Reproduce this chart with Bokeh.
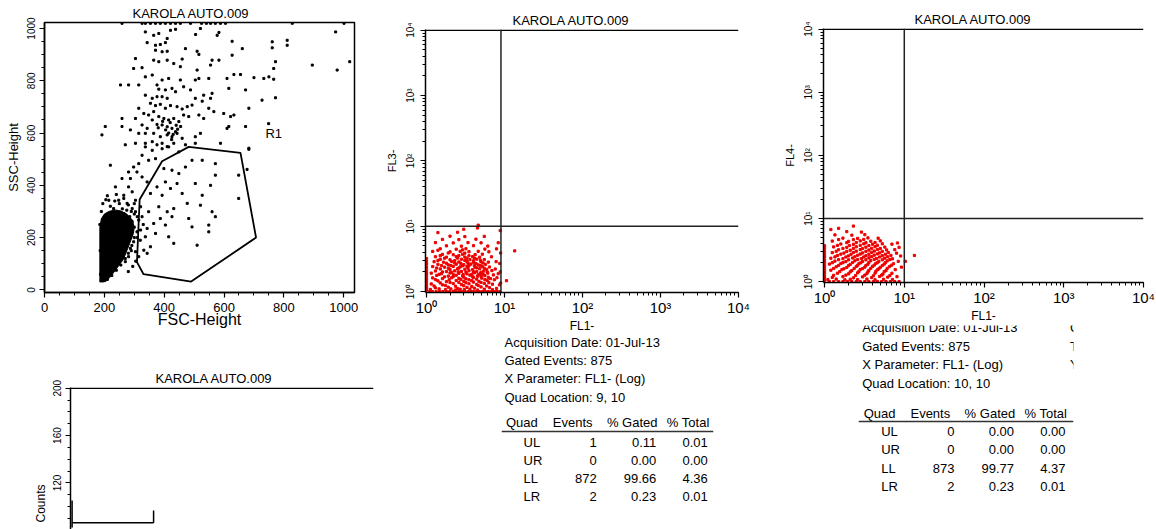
import math
from bokeh.plotting import figure
from bokeh.layouts import row, column
from bokeh.models import Range1d, SingleIntervalTicker, Span
from bokeh.core.properties import value
from bokeh.embed import file_html
from bokeh.resources import INLINE

TITLE = "KAROLA AUTO.009"
FONT = "Liberation Sans"

# ---------------- Panel 1: FSC-Height vs SSC-Height ----------------
# dense core of events (outline of the saturated black blob)
core_fsc = [185, 185, 190, 200, 215, 235, 255, 275, 293, 300, 297, 282, 264, 240, 220, 205]
core_ssc = [30, 240, 272, 290, 300, 306, 302, 290, 268, 240, 215, 170, 118, 80, 50, 32]

# scattered events, (FSC, SSC)
events_top = [(259, 1020), (326, 1020), (337, 1020), (354, 1020), (371, 1020), (387, 1020),
              (404, 1020), (421, 1020), (438, 1020), (454, 1020), (488, 1020), (525, 1020),
              (541, 1020), (555, 1020), (571, 1020), (588, 1020), (605, 1020), (828, 1020),
              (1001, 1020)]
events_upper = [(337, 987), (365, 974), (382, 981), (421, 993), (438, 997), (505, 977), (521, 1000),
                (583, 985), (973, 987), (811, 955), (761, 949), (627, 951), (343, 946), (371, 936),
                (387, 939), (410, 962), (404, 946), (577, 974), (371, 917), (393, 911), (410, 913),
                (471, 923), (510, 913), (516, 901), (661, 923), (761, 926), (811, 936), (304, 885),
                (365, 879), (382, 873), (410, 879), (432, 866), (460, 883), (560, 879), (583, 879),
                (627, 898), (772, 873), (895, 860), (978, 841), (1020, 873), (298, 847), (326, 850),
                (454, 854), (510, 841), (555, 860), (766, 847), (337, 815), (360, 822), (393, 803),
                (415, 809), (454, 803), (504, 803), (516, 809), (549, 809), (610, 809), (633, 824),
                (655, 824), (700, 812), (733, 809), (750, 815), (766, 806), (254, 784), (281, 784),
                (315, 784), (376, 784), (382, 768), (404, 765), (426, 771), (438, 758), (465, 777),
                (488, 765), (532, 745), (560, 752), (616, 771), (672, 765)]
events_mid = [(337, 745), (360, 733), (376, 739), (393, 739), (410, 733), (354, 714), (371, 705),
              (387, 710), (404, 695), (421, 705), (443, 701), (460, 692), (477, 701), (493, 707),
              (315, 695), (332, 675), (348, 669), (365, 682), (382, 663), (399, 656), (415, 650),
              (432, 656), (449, 644), (360, 650), (376, 633), (393, 631), (410, 624), (426, 618),
              (438, 605), (343, 618), (326, 631), (504, 733), (527, 722), (555, 733), (549, 695),
              (566, 682), (516, 669), (532, 656), (482, 663), (465, 669), (599, 675), (622, 663),
              (633, 669), (727, 726), (772, 735), (683, 695), (616, 625), (672, 625), (610, 618),
              (304, 656), (259, 656), (203, 625), (192, 593), (259, 625), (287, 612), (315, 599),
              (337, 599), (365, 599), (387, 586), (410, 593), (426, 586), (443, 599), (460, 580),
              (393, 561), (376, 555), (360, 567), (337, 561), (304, 561), (270, 555), (410, 548),
              (432, 561), (471, 555), (504, 586), (521, 599), (504, 561), (588, 561), (683, 542),
              (749, 636), (420, 640), (440, 630), (415, 600), (430, 595), (445, 615), (405, 612),
              (395, 645), (380, 620), (455, 625), (425, 575)]
events_low = [(337, 547), (360, 534), (393, 540), (415, 547), (449, 528), (326, 515), (348, 496),
              (371, 502), (315, 483), (298, 470), (220, 477), (281, 451), (309, 451), (259, 426),
              (287, 426), (326, 432), (343, 413), (237, 394), (281, 394), (265, 362), (293, 375),
              (248, 343), (304, 343), (215, 343), (276, 331), (231, 311), (493, 496), (527, 496),
              (571, 483), (471, 470), (426, 458), (399, 464), (449, 445), (571, 439), (504, 407),
              (555, 400), (443, 407), (404, 413), (376, 394), (421, 388), (460, 369), (393, 362),
              (354, 369), (527, 362), (649, 350), (649, 439), (677, 461), (683, 538), (477, 331),
              (521, 324), (432, 311), (382, 318), (410, 299), (348, 299), (326, 280), (387, 273),
              (426, 280), (482, 273), (571, 280), (560, 299), (365, 254), (343, 235), (404, 248),
              (493, 241), (549, 248), (337, 203), (371, 216), (415, 203), (549, 222), (432, 178),
              (510, 171), (354, 165), (343, 140), (332, 152), (315, 127), (315, 267), (304, 299),
              (293, 261), (309, 222), (298, 184), (287, 159), (281, 127), (270, 108), (321, 318),
              (293, 311), (265, 292), (321, 229), (304, 146), (300, 240), (310, 200), (290, 210),
              (320, 190), (285, 280), (330, 250), (300, 330), (275, 250), (290, 150), (305, 110),
              (295, 90), (280, 70)]
events_core_edge = [(195, 330), (205, 345), (220, 320), (235, 340), (250, 330), (265, 350), (280, 325),
                    (290, 300), (300, 290), (310, 280), (210, 360), (240, 365), (190, 300), (260, 310),
                    (275, 305), (185, 250), (186, 150), (187, 60), (300, 200), (292, 170), (280, 140),
                    (270, 120), (255, 95), (240, 75), (225, 55), (210, 40), (195, 35)]

# region R1
gate_fsc = [482, 655, 707, 490, 331, 309, 318, 393]
gate_ssc = [547, 524, 200, 32, 60, 106, 346, 492]
gate_name = ["R1"]
gate_label_fsc = [766]
gate_label_ssc = [600]

# ---------------- Panel 2: FL1- vs FL3- ----------------
fl13_axis_col = [(1.0, 1.05), (1.0, 1.12), (1.0, 1.2), (1.0, 1.3), (1.0, 1.42), (1.0, 1.55), (1.0, 1.7),
                 (1.0, 1.85), (1.0, 2.0), (1.0, 2.2), (1.0, 2.4), (1.0, 2.65), (1.0, 2.9), (1.0, 3.2)]
fl13_axis_row = [(1.1, 1.0), (1.2, 1.0), (1.33, 1.0), (1.47, 1.0), (1.62, 1.0), (1.8, 1.0), (1.98, 1.0),
                 (2.2, 1.0), (2.4, 1.0), (2.62, 1.0), (2.87, 1.0), (3.1, 1.0), (3.4, 1.0), (3.7, 1.0),
                 (4.0, 1.0), (4.35, 1.0), (4.75, 1.0), (5.2, 1.0), (5.7, 1.0), (6.2, 1.0), (6.8, 1.0),
                 (7.4, 1.0), (8.0, 1.0), (8.7, 1.0)]
fl13_cloud = [(1.3, 1.14), (1.9, 1.17), (2.5, 1.12), (3.3, 1.16), (4.1, 1.13), (5.0, 1.18), (6.4, 1.15),
              (7.9, 1.12), (1.15, 1.31), (1.6, 1.27), (2.2, 1.33), (2.8, 1.28), (3.5, 1.32), (4.4, 1.29),
              (5.5, 1.34), (7.0, 1.3), (8.6, 1.27), (1.4, 1.46), (1.8, 1.42), (2.4, 1.48), (3.0, 1.44),
              (3.8, 1.47), (4.7, 1.43), (6.0, 1.49), (1.2, 1.62), (1.6, 1.58), (2.1, 1.63), (2.6, 1.6),
              (3.2, 1.57), (4.0, 1.64), (5.1, 1.61), (6.6, 1.58), (8.0, 1.63), (1.35, 1.77), (1.9, 1.73),
              (2.4, 1.78), (2.9, 1.74), (3.6, 1.79), (4.5, 1.72), (5.6, 1.76), (7.2, 1.8), (1.15, 1.92),
              (1.55, 1.88), (2.0, 1.93), (2.6, 1.9), (3.3, 1.87), (4.1, 1.94), (4.9, 1.89), (6.1, 1.92),
              (8.3, 1.88), (1.3, 2.07), (1.8, 2.03), (2.3, 2.08), (2.8, 2.04), (3.5, 2.09), (4.4, 2.02),
              (5.4, 2.06), (6.9, 2.1), (1.5, 2.22), (2.0, 2.18), (2.5, 2.23), (3.1, 2.2), (3.9, 2.17),
              (4.8, 2.24), (5.9, 2.19), (7.6, 2.22), (1.2, 2.42), (1.7, 2.37), (2.2, 2.43), (2.7, 2.39),
              (3.3, 2.44), (4.2, 2.36), (5.2, 2.41), (6.4, 2.38), (1.4, 2.62), (1.9, 2.57), (2.4, 2.63),
              (3.0, 2.59), (3.7, 2.64), (4.6, 2.56), (5.7, 2.61), (1.25, 2.87), (1.65, 2.82), (2.1, 2.88),
              (2.6, 2.84), (3.3, 2.89), (4.0, 2.81), (5.0, 2.86), (6.2, 2.83), (7.8, 2.88), (1.5, 3.12),
              (2.0, 3.07), (2.8, 3.13), (3.6, 3.08), (4.4, 3.14), (5.5, 3.09), (1.3, 3.42), (1.8, 3.37),
              (2.4, 3.43), (3.1, 3.38), (3.9, 3.44), (4.8, 3.36), (6.8, 3.41), (1.6, 3.72), (2.2, 3.67),
              (2.9, 3.73), (4.2, 3.68), (5.2, 3.74), (1.2, 4.12), (2.0, 4.06), (2.7, 4.13), (3.5, 4.08),
              (4.6, 4.14), (6.3, 4.07), (1.5, 4.52), (2.4, 4.46), (3.2, 4.53), (5.6, 4.48), (7.9, 4.51),
              (1.8, 5.02), (2.8, 4.96), (4.0, 5.04), (6.1, 4.98), (1.3, 5.62), (2.2, 5.56), (3.4, 5.63),
              (5.0, 5.58), (8.3, 5.6), (1.6, 6.3), (2.6, 6.25), (4.3, 6.35), (2.0, 7.05), (3.1, 6.95),
              (5.5, 7.0), (1.4, 8.0), (2.5, 8.1), (8.8, 8.6), (4.5, 9.4), (3.0, 9.0), (8.9, 1.35),
              (8.8, 2.0), (8.7, 2.7), (8.9, 3.9), (13.5, 4.2), (10.6, 1.47), (4.6, 10.4)]
fl13_cloud_dense = [(1.12, 1.08), (1.45, 1.1), (1.75, 1.07), (2.05, 1.1), (2.35, 1.06), (2.7, 1.09),
                    (3.05, 1.07), (3.6, 1.09), (4.5, 1.06), (5.5, 1.09), (7.0, 1.07), (1.25, 1.22),
                    (1.75, 1.24), (2.35, 1.21), (3.0, 1.23), (3.8, 1.2), (4.6, 1.24), (5.9, 1.22),
                    (1.5, 1.36), (2.0, 1.38), (2.6, 1.39), (3.2, 1.37), (4.0, 1.4), (5.0, 1.38),
                    (6.3, 1.37), (1.3, 1.53), (1.95, 1.52), (2.75, 1.54), (3.5, 1.52), (4.4, 1.55),
                    (5.6, 1.53), (7.4, 1.52), (1.7, 1.68), (2.2, 1.7), (3.0, 1.67), (3.9, 1.69),
                    (5.0, 1.71), (6.2, 1.66), (1.45, 1.84), (2.2, 1.83), (2.95, 1.82), (3.8, 1.84),
                    (4.6, 1.81), (5.3, 1.85), (1.6, 2.0), (2.1, 1.98), (2.55, 2.0), (3.2, 1.99),
                    (4.0, 2.01), (5.0, 1.98), (6.0, 2.0), (1.35, 2.3), (1.9, 2.28), (2.6, 2.3),
                    (3.4, 2.29), (4.4, 2.31), (5.5, 2.28), (1.55, 2.5), (2.05, 2.5), (2.9, 2.48),
                    (3.5, 2.51), (4.1, 2.49), (4.9, 2.5), (1.8, 2.72), (2.3, 2.74), (2.75, 2.71),
                    (3.4, 2.73), (4.3, 2.7), (5.3, 2.74), (1.4, 3.0), (2.3, 2.98), (3.1, 3.0),
                    (4.0, 2.97), (4.9, 3.01), (1.7, 3.25), (2.5, 3.26), (3.3, 3.24), (4.1, 3.27),
                    (1.5, 3.55), (2.6, 3.56), (3.5, 3.54), (1.9, 3.9), (3.1, 3.88), (1.4, 4.3), (2.9, 4.35)]
quad2_x = 9
quad2_y = 10

# ---------------- Panel 3: FL1- vs FL4- ----------------
fl14_axis_col = [(1.0, 1.05), (1.0, 1.15), (1.0, 1.25), (1.0, 1.38), (1.0, 1.5), (1.0, 1.65), (1.0, 1.8),
                 (1.0, 2.0), (1.0, 2.2), (1.0, 2.45), (1.0, 2.7), (1.0, 3.0), (1.0, 3.35), (1.0, 3.7)]
fl14_axis_row = [(1.15, 1.0), (1.3, 1.0), (1.5, 1.0), (1.7, 1.0), (1.95, 1.0), (2.2, 1.0), (2.5, 1.0),
                 (2.8, 1.0), (3.2, 1.0), (3.6, 1.0), (4.1, 1.0), (4.6, 1.0), (5.2, 1.0), (5.9, 1.0),
                 (6.7, 1.0), (7.6, 1.0), (8.6, 1.0)]
fl14_cloud = [(1.25, 1.17), (1.7, 1.2), (2.3, 1.15), (3.0, 1.19), (3.9, 1.16), (4.9, 1.21), (6.2, 1.18),
              (8.1, 1.2), (1.45, 1.36), (2.0, 1.33), (2.6, 1.38), (3.4, 1.34), (4.3, 1.37), (5.4, 1.32),
              (7.0, 1.36), (1.2, 1.52), (1.65, 1.55), (2.2, 1.5), (2.8, 1.56), (3.6, 1.51), (4.6, 1.54),
              (5.9, 1.5), (7.7, 1.55), (1.4, 1.72), (1.9, 1.68), (2.5, 1.74), (3.2, 1.7), (4.0, 1.75),
              (5.0, 1.69), (6.5, 1.73), (9.2, 1.7), (1.15, 1.9), (1.6, 1.94), (2.1, 1.88), (2.7, 1.93),
              (3.5, 1.89), (4.4, 1.95), (5.6, 1.9), (7.3, 1.92), (1.35, 2.12), (1.85, 2.08), (2.4, 2.14),
              (3.0, 2.09), (3.8, 2.15), (4.8, 2.1), (6.1, 2.13), (8.4, 2.1), (1.2, 2.35), (1.7, 2.31),
              (2.25, 2.37), (2.9, 2.32), (3.6, 2.38), (4.5, 2.33), (5.7, 2.36), (7.1, 2.3), (1.45, 2.6),
              (2.0, 2.56), (2.6, 2.62), (3.3, 2.57), (4.2, 2.63), (5.3, 2.58), (6.8, 2.61), (9.0, 2.55),
              (1.25, 2.88), (1.75, 2.84), (2.3, 2.9), (3.0, 2.85), (3.9, 2.91), (4.9, 2.86), (6.3, 2.89),
              (8.0, 2.83), (1.5, 3.2), (2.1, 3.15), (2.8, 3.22), (3.6, 3.17), (4.6, 3.23), (6.0, 3.18),
              (7.6, 3.21), (1.3, 3.55), (1.9, 3.5), (2.5, 3.57), (3.3, 3.52), (4.3, 3.58), (5.7, 3.53),
              (8.6, 3.5), (1.6, 3.95), (2.3, 3.9), (3.1, 3.97), (4.0, 3.92), (5.3, 3.98), (7.0, 3.93),
              (1.25, 4.4), (2.0, 4.35), (2.8, 4.42), (3.8, 4.37), (5.0, 4.43), (8.2, 4.1), (1.7, 4.9),
              (2.6, 4.85), (3.5, 4.93), (4.7, 4.88), (1.35, 5.5), (2.2, 5.45), (3.2, 5.55), (1.9, 6.2),
              (2.9, 6.1), (1.5, 7.0), (2.3, 7.6), (1.2, 6.7), (13.4, 2.6), (10.3, 2.1)]
fl14_cloud_dense = [(1.1, 1.08), (1.4, 1.1), (1.8, 1.07), (2.1, 1.09), (2.6, 1.08), (3.4, 1.1), (4.3, 1.07),
                    (5.5, 1.09), (7.1, 1.08), (1.3, 1.26), (1.85, 1.27), (2.45, 1.25), (3.2, 1.27),
                    (4.1, 1.24), (5.2, 1.27), (6.6, 1.25), (1.55, 1.44), (2.1, 1.43), (2.7, 1.45),
                    (3.5, 1.43), (4.4, 1.46), (5.6, 1.44), (1.3, 1.62), (1.75, 1.6), (2.35, 1.62),
                    (3.0, 1.61), (3.8, 1.63), (4.8, 1.6), (6.1, 1.62), (1.5, 1.81), (2.0, 1.8), (2.6, 1.82),
                    (3.3, 1.8), (4.2, 1.83), (5.3, 1.8), (6.9, 1.82), (1.25, 2.0), (1.7, 2.0), (2.25, 2.01),
                    (2.85, 1.99), (3.6, 2.02), (4.6, 2.0), (5.8, 2.0), (1.5, 2.23), (2.0, 2.22), (2.6, 2.24),
                    (3.3, 2.22), (4.2, 2.25), (5.3, 2.22), (6.6, 2.24), (1.35, 2.47), (1.85, 2.46),
                    (2.4, 2.48), (3.1, 2.46), (3.9, 2.49), (4.9, 2.46), (6.2, 2.48), (1.6, 2.73),
                    (2.15, 2.72), (2.8, 2.74), (3.6, 2.72), (4.6, 2.75), (5.8, 2.72), (1.4, 3.03),
                    (1.9, 3.02), (2.5, 3.04), (3.3, 3.02), (4.2, 3.05), (5.3, 3.02), (1.7, 3.36),
                    (2.3, 3.37), (3.0, 3.35), (3.9, 3.38), (5.0, 3.36), (1.45, 3.75), (2.05, 3.74),
                    (2.8, 3.76), (3.6, 3.73), (4.6, 3.77), (1.9, 4.15), (2.5, 4.16), (3.3, 4.13),
                    (4.3, 4.17), (1.5, 4.65), (2.3, 4.62), (3.1, 4.66)]
quad3_x = 10
quad3_y = 10

log_tick_labels = {1: "10\u2070", 10: "10\u00b9", 100: "10\u00b2", 1000: "10\u00b3", 10000: "10\u2074"}

# ---------------- Panel 4: histogram (Counts) ----------------
hist_marker_x0 = [1.05, 1.05, 12.5]
hist_marker_y0 = [86.3, 82.4, 86.3]
hist_marker_x1 = [12.5, 1.05, 12.5]
hist_marker_y1 = [86.3, 105.2, 96.7]

# ---------------- Statistics ----------------
quads = ["UL", "UR", "LL", "LR"]
events2 = [1, 0, 872, 2]
gated2 = [0.11, 0.00, 99.66, 0.23]
total2 = [0.01, 0.00, 4.36, 0.01]
events3 = [0, 0, 873, 2]
gated3 = [0.00, 0.00, 99.77, 0.23]
total3 = [0.00, 0.00, 4.37, 0.01]
info2 = ["Acquisition Date: 01-Jul-13", "Gated Events: 875", "X Parameter: FL1- (Log)", "Quad Location: 9, 10"]
info3 = ["Acquisition Date: 01-Jul-13", "Gated Events: 875", "X Parameter: FL1- (Log)", "Quad Location: 10, 10"]
info3_right = ["Gate: G1", "Total Events: 20000", "Y Parameter: FL4- (Log)"]
headers = ["Events", "% Gated", "% Total"]


def xs(pts):
    return [p[0] for p in pts]


def ys(pts):
    return [p[1] for p in pts]


def style_axes(p):
    p.grid.visible = False
    for ax in p.axis:
        ax.axis_line_color = "black"
        ax.axis_line_width = 1.5
        ax.major_tick_line_color = "black"
        ax.major_tick_line_width = 1.2
        ax.minor_tick_line_color = "black"
        ax.minor_tick_line_width = 1
        ax.major_tick_in = 0
        ax.major_tick_out = 5
        ax.minor_tick_in = 0
        ax.minor_tick_out = 3
        ax.major_label_text_font = FONT
        ax.major_label_text_color = "black"
        ax.axis_label_text_font = FONT
        ax.axis_label_text_font_style = "normal"
        ax.axis_label_text_color = "black"


def style_title(p, offset):
    p.title.text_font = FONT
    p.title.text_font_size = "13px"
    p.title.text_font_style = "normal"
    p.title.text_color = "black"
    p.title.align = "left"
    p.title.offset = offset
    p.title.standoff = 3


# ---------- figure 1 ----------
p1 = figure(width=380, height=345, title=TITLE, output_backend="svg", toolbar_location=None,
            x_range=Range1d(0, 1036), y_range=Range1d(-10, 1023),
            min_border_left=44, min_border_right=26, min_border_top=22, min_border_bottom=53)
style_axes(p1)
style_title(p1, 88)
p1.outline_line_color = "black"
p1.outline_line_width = 1.5
p1.outline_line_alpha = 1
p1.xaxis.ticker = SingleIntervalTicker(interval=200, num_minor_ticks=4)
p1.yaxis.ticker = SingleIntervalTicker(interval=200, num_minor_ticks=4)
p1.xaxis.major_label_text_font_size = "13px"
p1.xaxis.major_label_standoff = 5
p1.xaxis.axis_label = "FSC-Height"
p1.xaxis.axis_label_text_font_size = "16px"
p1.xaxis.axis_label_standoff = -4
p1.yaxis.major_label_text_font_size = "10px"
p1.yaxis.major_label_orientation = "vertical"
p1.yaxis.major_label_standoff = 4
p1.yaxis.axis_label = "SSC-Height"
p1.yaxis.axis_label_text_font_size = "13px"
p1.yaxis.axis_label_standoff = 4

p1.patch(core_fsc, core_ssc, color="black")
for grp in (events_top, events_upper, events_mid, events_low, events_core_edge):
    p1.scatter(xs(grp), ys(grp), marker="square", size=2.0, color="black")
p1.patch(gate_fsc, gate_ssc, fill_alpha=0, line_color="black", line_width=1.8)
p1.text(x=gate_label_fsc, y=gate_label_ssc, text=gate_name, text_font=value(FONT),
        text_font_size="13px", text_align="center", text_baseline="middle", text_color="black")


def quad_figure(width, height, mb_left, mb_right, mb_top, mb_bottom, ylabel, title_offset):
    p = figure(width=width, height=height, title=TITLE, output_backend="svg", toolbar_location=None,
               x_axis_type="log", y_axis_type="log",
               x_range=Range1d(0.97, 1e4), y_range=Range1d(0.97, 10 ** 4.01),
               min_border_left=mb_left, min_border_right=mb_right,
               min_border_top=mb_top, min_border_bottom=mb_bottom)
    style_axes(p)
    style_title(p, title_offset)
    p.outline_line_color = None
    p.xaxis.major_label_overrides = log_tick_labels
    p.yaxis.major_label_overrides = log_tick_labels
    p.xaxis.major_label_text_font_size = "15px"
    p.xaxis.major_label_standoff = 1
    p.xaxis.axis_label = "FL1-"
    p.xaxis.axis_label_text_font_size = "12px"
    p.xaxis.axis_label_standoff = 0
    p.yaxis.major_label_text_font_size = "10px"
    p.yaxis.major_label_orientation = "vertical"
    p.yaxis.major_label_standoff = 4
    p.yaxis.axis_label = ylabel
    p.yaxis.axis_label_text_font_size = "11px"
    p.yaxis.axis_label_standoff = 5
    p.add_layout(Span(location=1e4, dimension="width", line_color="black", line_width=1.5))
    return p


# ---------- figure 2 ----------
p2 = quad_figure(398, 335, 45, 40, 29, 42, "FL3-", 87)
for grp in (fl13_axis_col, fl13_axis_row, fl13_cloud, fl13_cloud_dense):
    p2.scatter(xs(grp), ys(grp), marker="square", size=2.2, color="#ee0000")
p2.add_layout(Span(location=quad2_x, dimension="height", line_color="#222222", line_width=1.5))
p2.add_layout(Span(location=quad2_y, dimension="width", line_color="#222222", line_width=1.5))

# ---------- figure 3 ----------
p3 = quad_figure(378, 325, 45, 13, 28, 36, "FL4-", 91)
for grp in (fl14_axis_col, fl14_axis_row, fl14_cloud, fl14_cloud_dense):
    p3.scatter(xs(grp), ys(grp), marker="square", size=2.2, color="#ee0000")
p3.add_layout(Span(location=quad3_x, dimension="height", line_color="#222222", line_width=1.5))
p3.add_layout(Span(location=quad3_y, dimension="width", line_color="#222222", line_width=1.5))

# ---------- figure 4 (histogram) ----------
p4 = figure(width=380, height=184, title=TITLE, output_backend="svg", toolbar_location=None,
            x_axis_type="log", x_range=Range1d(1, 1e4), y_range=Range1d(80.7, 200.6),
            x_axis_location=None,
            min_border_left=70, min_border_right=7, min_border_top=42, min_border_bottom=0)
style_axes(p4)
style_title(p4, 85)
p4.outline_line_color = None
p4.yaxis.ticker = SingleIntervalTicker(interval=40, num_minor_ticks=4)
p4.yaxis.major_label_text_font_size = "10px"
p4.yaxis.major_label_orientation = "vertical"
p4.yaxis.major_label_standoff = 4
p4.yaxis.axis_label = "Counts" + "\u00a0" * 27
p4.yaxis.axis_label_text_font_size = "12px"
p4.yaxis.axis_label_standoff = 3
p4.add_layout(Span(location=200, dimension="width", line_color="black", line_width=1.5))
p4.segment(hist_marker_x0, hist_marker_y0, hist_marker_x1, hist_marker_y1, line_color="black", line_width=1.5)


# ---------- statistics text panels (the report is cut at the frame edges) ----------
def stats_figure(width, height, left, x0, x1, y_top, L, info, info_y, head_y, rule_y, row_y,
                 events, gated, total, info_right=None):
    t = figure(width=width, height=height, output_backend="svg", toolbar_location=None,
               x_range=Range1d(x0, x1), y_range=Range1d(529, y_top),
               x_axis_location=None, y_axis_location=None,
               min_border_left=left, min_border_right=width - left - (x1 - x0),
               min_border_top=0, min_border_bottom=0)
    t.outline_line_color = None
    t.grid.visible = False
    kw = dict(text_font=value(FONT), text_font_size="13px", text_color="black", text_baseline="middle")
    t.text(x=[L] * len(info), y=info_y, text=info, text_align="left", **kw)
    if info_right:
        t.text(x=[L + 207.8] * len(info_right), y=info_y[:len(info_right)], text=info_right,
               text_align="left", **kw)
    t.text(x=[L + 1.5], y=[head_y], text=["Quad"], text_align="left", **kw)
    t.text(x=[L + 88, L + 153, L + 205], y=[head_y] * 3, text=headers, text_align="right", **kw)
    t.text(x=[L + 19] * 4, y=row_y, text=quads, text_align="left", **kw)
    t.text(x=[L + 92.3] * 4, y=row_y, text=[str(v) for v in events], text_align="right", **kw)
    t.text(x=[L + 151.8] * 4, y=row_y, text=[f"{v:.2f}" for v in gated], text_align="right", **kw)
    t.text(x=[L + 203.3] * 4, y=row_y, text=[f"{v:.2f}" for v in total], text_align="right", **kw)
    t.line(x=[x0, x1], y=[rule_y, rule_y], line_color="#333333", line_width=1.5)
    return t


t2 = stats_figure(398, 194, 121, 501, 713, 335, 504, info2, [341.7, 360, 378.3, 396.7], 421.7, 431,
                  [441.7, 460, 478.3, 496], events2, gated2, total2)
t3 = stats_figure(378, 204, 80, 858, 1073, 325, 861.7, info3, [327, 345.7, 364, 382.7], 412.7, 421,
                  [430.7, 449, 468.3, 486], events3, gated3, total3, info_right=info3_right)

# each figure sits in its own box so that the frames of stacked figures are not aligned
layout = row(column(column(p1), column(p4)),
             column(column(p2), column(t2)),
             column(column(p3), column(t3)))

with open("out.html", "w") as f:
    f.write(file_html(layout, INLINE, title="KAROLA AUTO.009"))
